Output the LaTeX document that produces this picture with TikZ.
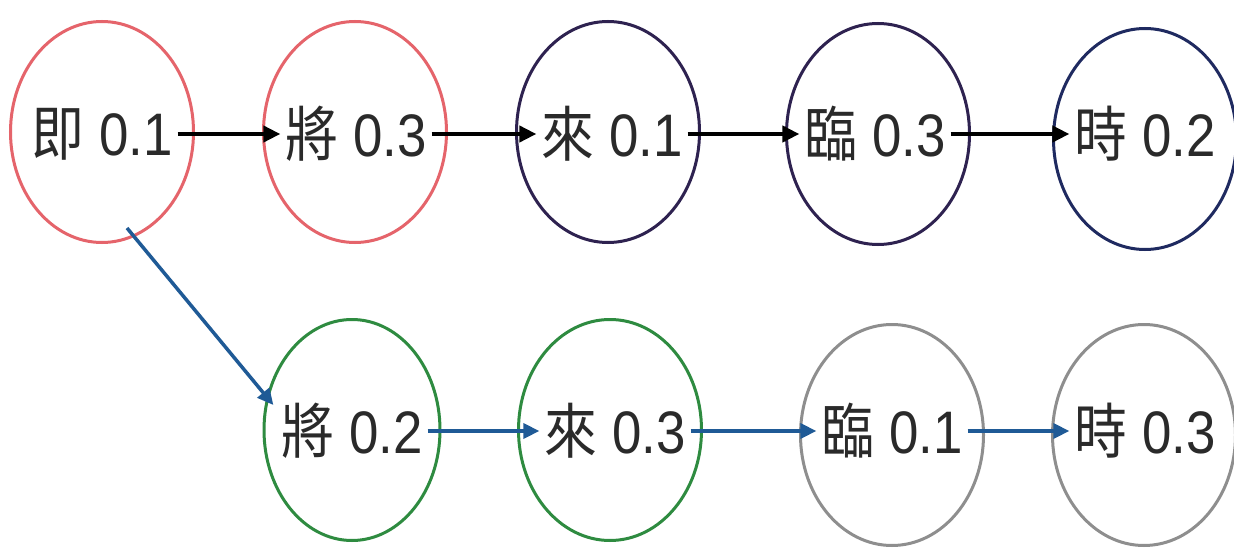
\documentclass[tikz,border=0pt]{standalone}
\usepackage{fontspec}
\setmainfont[FakeStretch=0.88]{Liberation Sans}
\newfontfamily\cjk[FakeStretch=0.88]{Noto Sans CJK TC}
\usetikzlibrary{shapes.geometric,arrows.meta,calc}
\definecolor{cred}{HTML}{E5646B}
\definecolor{cpurple}{HTML}{2E2250}
\definecolor{cnavy}{HTML}{1F2A60}
\definecolor{cgreen}{HTML}{2E8B40}
\definecolor{cgrey}{HTML}{8E8E8E}
\definecolor{cblue}{HTML}{1F5A96}
\definecolor{ctext}{HTML}{2A2A2A}
\begin{document}
\begin{tikzpicture}[x=1pt,y=-1pt,
  ell/.style={draw, ellipse, line width=3pt, minimum width=183pt, minimum height=221pt, inner sep=0pt},
  lbl/.style={inner sep=5pt, text=ctext, font=\fontsize{60}{70}\selectfont},
  blk/.style={line width=4pt, draw=black, -{Triangle[length=17pt,width=16pt]}},
  blu/.style={line width=3.5pt, draw=cblue, -{Triangle[length=16pt,width=15pt]}}]
\fill[white] (0,0) rectangle (1234,548);
\useasboundingbox (0,0) rectangle (1234,548);
% ellipses
\node[ell, draw=cred] (e1) at (102,132) {};
\node[ell, draw=cred] (e2) at (355,132) {};
\node[ell, draw=cpurple] (e3) at (608,132) {};
\node[ell, draw=cpurple] (e4) at (878,134) {};
\node[ell, draw=cnavy] (e5) at (1145,139) {};
\node[ell, draw=cgreen, minimum width=176pt] (e6) at (352,430) {};
\node[ell, draw=cgreen] (e7) at (610,430) {};
\node[ell, draw=cgrey] (e8) at (892,435) {};
\node[ell, draw=cgrey] (e9) at (1144,435) {};
% labels
\node[lbl] (t1) at (102,134) {{\cjk 即} 0.1};
\node[lbl] (t2) at (356,134) {{\cjk 將} 0.3};
\node[lbl] (t3) at (612,134) {{\cjk 來} 0.1};
\node[lbl] (t4) at (875,134) {{\cjk 臨} 0.3};
\node[lbl] (t5) at (1145,134) {{\cjk 時} 0.2};
\node[lbl] (t6) at (352,431) {{\cjk 將} 0.2};
\node[lbl] (t7) at (615,431) {{\cjk 來} 0.3};
\node[lbl] (t8) at (892,431) {{\cjk 臨} 0.1};
\node[lbl] (t9) at (1145,431) {{\cjk 時} 0.3};
\coordinate (d1) at ($(e1.center)+(25,96)$);
\coordinate (d2) at ($(t6.west)+(-3,-26)$);
% connectors
\draw[blk] (t1) -- (t2);
\draw[blk] (t2) -- (t3);
\draw[blk] (t3) -- (t4);
\draw[blk] (t4) -- (t5);
\draw[blu] (d1) -- (d2);
\draw[blu] (t6) -- (t7);
\draw[blu] (t7) -- (t8);
\draw[blu] (t8) -- (t9);
\end{tikzpicture}
\end{document}
